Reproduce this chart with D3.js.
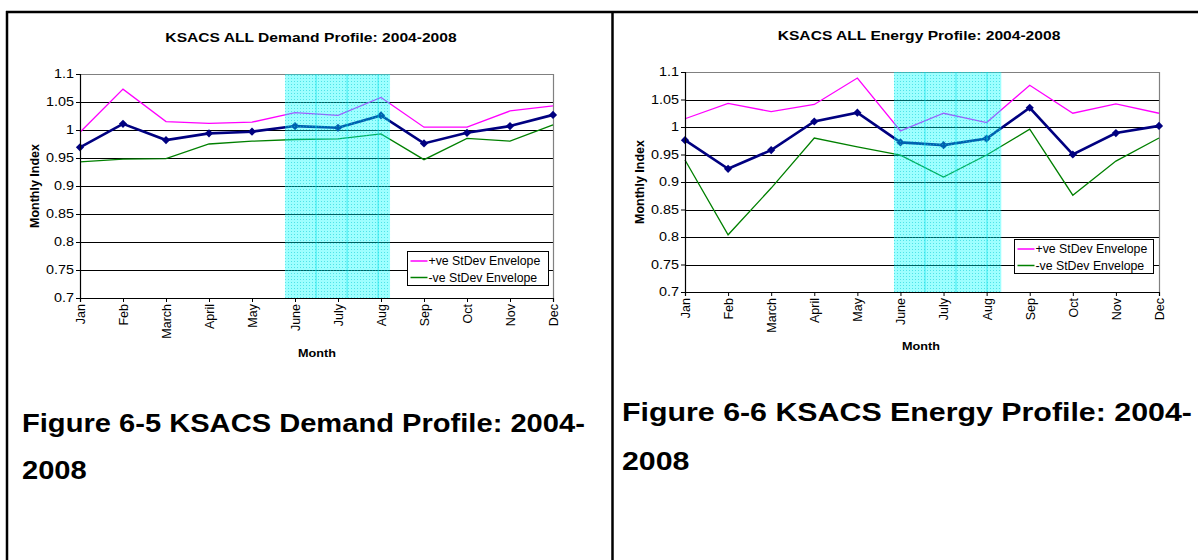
<!DOCTYPE html>
<html>
<head>
<meta charset="utf-8">
<script src="https://cdn.jsdelivr.net/npm/d3@7"></script>
<style>
  body { margin: 0; background: #fff; }
  text { font-family: "Liberation Sans", Arial, sans-serif; }
</style>
</head>
<body>
<div id="page"></div>
<script>
// month categories and tick values
const months = ['Jan', 'Feb', 'March', 'April', 'May', 'June', 'July', 'Aug', 'Sep', 'Oct', 'Nov', 'Dec'];
const yTicks = [0.7, 0.75, 0.8, 0.85, 0.9, 0.95, 1, 1.05, 1.1];

// Demand profile
const demandIndex = [0.969, 1.011, 0.982, 0.994, 0.997, 1.007, 1.004, 1.026, 0.976, 0.995, 1.007, 1.027];
const demandPlus  = [0.996, 1.073, 1.015, 1.012, 1.014, 1.031, 1.026, 1.058, 1.005, 1.005, 1.034, 1.043];
const demandMinus = [0.943, 0.948, 0.949, 0.975, 0.980, 0.983, 0.984, 0.993, 0.947, 0.985, 0.980, 1.009];

// Energy profile
const energyIndex = [0.976, 0.924, 0.958, 1.010, 1.026, 0.972, 0.967, 0.979, 1.035, 0.950, 0.989, 1.002];
const energyPlus  = [1.015, 1.043, 1.028, 1.041, 1.089, 0.993, 1.025, 1.008, 1.076, 1.025, 1.042, 1.025];
const energyMinus = [0.940, 0.804, 0.889, 0.980, 0.964, 0.949, 0.909, 0.949, 0.996, 0.876, 0.938, 0.980];

// summer band, in month positions
const demandShade = [4.77, 7.21];
const energyShade = [4.85, 7.34];

const svg = d3.select('#page').append('svg')
  .attr('width', 1198)
  .attr('height', 560)
  .style('display', 'block');

svg.append('rect').attr('width', 1198).attr('height', 560).attr('fill', '#fff');

// dotted texture for the shaded band
const defs = svg.append('defs');
const pat = defs.append('pattern')
  .attr('id', 'dots')
  .attr('width', 3).attr('height', 3)
  .attr('patternUnits', 'userSpaceOnUse');
pat.append('rect').attr('width', 3).attr('height', 3).attr('fill', '#00ffff').attr('opacity', 0.38);
pat.append('rect').attr('width', 1).attr('height', 1).attr('fill', '#00c8d0').attr('opacity', 0.5);

// page frame
const frame = svg.append('g').attr('stroke', '#000').attr('stroke-width', 2.5);
frame.append('line').attr('x1', 6).attr('x2', 1198).attr('y1', 12).attr('y2', 12);
frame.append('line').attr('x1', 7).attr('x2', 7).attr('y1', 11).attr('y2', 560);
frame.append('line').attr('x1', 612.5).attr('x2', 612.5).attr('y1', 11).attr('y2', 560);

// horizontal text, a bit stretched like the scanned original
function wideText(sel, x, y, sx, str) {
  return sel.append('text')
    .attr('transform', `translate(${x},${y}) scale(${sx},1)`)
    .text(str);
}

function drawChart(cfg) {
  const g = svg.append('g');
  const x = d3.scalePoint().domain(d3.range(months.length)).range([cfg.x0, cfg.x1]);
  const step = x.step();
  const xm = v => cfg.x0 + v * step;
  const y = d3.scaleLinear().domain([0.7, 1.1]).range([cfg.y1, cfg.y0]);

  // title
  wideText(g, cfg.titleX, cfg.titleY, 1.25, cfg.title)
    .attr('text-anchor', 'middle')
    .style('font-size', '12.5px').style('font-weight', 'bold');

  // gridlines
  g.append('g').selectAll('line')
    .data(yTicks.slice(1, -1))
    .enter().append('line')
    .attr('x1', cfg.x0).attr('x2', cfg.x1)
    .attr('y1', d => Math.round(y(d)) + 0.5).attr('y2', d => Math.round(y(d)) + 0.5)
    .attr('stroke', '#000').attr('stroke-width', 1);

  // plot border (top/right)
  g.append('path')
    .attr('d', `M${cfg.x0},${Math.round(y(1.1)) + 0.5}H${Math.round(cfg.x1) + 0.5}V${cfg.y1}`)
    .attr('fill', 'none').attr('stroke', '#808080').attr('stroke-width', 1.2);

  const line = d3.line().x((d, i) => x(i)).y(d => y(d));

  g.append('path').datum(cfg.plus)
    .attr('d', line).attr('fill', 'none')
    .attr('stroke', '#ff00ff').attr('stroke-width', 1.3);
  g.append('path').datum(cfg.minus)
    .attr('d', line).attr('fill', 'none')
    .attr('stroke', '#008000').attr('stroke-width', 1.3);
  g.append('path').datum(cfg.index)
    .attr('d', line).attr('fill', 'none')
    .attr('stroke', '#000080').attr('stroke-width', 2.6);
  // square diamonds
  g.append('g').selectAll('path')
    .data(cfg.index)
    .enter().append('path')
    .attr('transform', (d, i) => `translate(${x(i)},${y(d)}) rotate(45)`)
    .attr('d', d3.symbol().type(d3.symbolSquare).size(34))
    .attr('fill', '#000080');

  // shaded band drawn over the lines
  const sx0 = xm(cfg.shade[0]), sx1 = xm(cfg.shade[1]);
  const band = g.append('g');
  band.append('rect')
    .attr('x', sx0).attr('y', y(1.1))
    .attr('width', sx1 - sx0).attr('height', y(0.7) - y(1.1))
    .attr('fill', 'url(#dots)');
  // faint inner grid of the fill
  band.selectAll('line.v')
    .data(d3.range(sx0 + 31, sx1 - 4, 31))
    .enter().append('line')
    .attr('x1', d => d).attr('x2', d => d)
    .attr('y1', y(1.1)).attr('y2', y(0.7))
    .attr('stroke', '#00e0e8').attr('stroke-width', 1).attr('opacity', 0.6);

  // axes
  const yAxis = d3.axisLeft(y).tickValues(yTicks).tickSize(4).tickFormat(d => d3.format('')(+d.toFixed(2)));
  const ya = g.append('g').attr('transform', `translate(${cfg.x0},0)`).call(yAxis);
  ya.select('.domain').attr('stroke', '#000').attr('stroke-width', 1.2);
  ya.selectAll('.tick line').attr('stroke', '#000');
  ya.selectAll('.tick text')
    .attr('x', null)
    .attr('transform', 'translate(-6,0) scale(1.2,1)')
    .style('font-size', '12px').style('font-family', '"Liberation Sans", Arial, sans-serif')
    .attr('fill', '#000');

  const xAxis = d3.axisBottom(x).tickSize(4).tickFormat(i => months[i]);
  const xa = g.append('g').attr('transform', `translate(0,${cfg.y1})`).call(xAxis);
  xa.select('.domain').attr('stroke', '#000').attr('stroke-width', 1.2);
  xa.selectAll('.tick line').attr('stroke', '#000');
  xa.selectAll('.tick text')
    .attr('transform', 'rotate(-90)')
    .attr('x', -6).attr('y', 0).attr('dy', '0.35em')
    .attr('text-anchor', 'end')
    .style('font-size', '12.5px').style('font-family', '"Liberation Sans", Arial, sans-serif')
    .attr('fill', '#000');

  // axis titles
  wideText(g, cfg.monthX, cfg.monthY, 1.1, 'Month')
    .attr('text-anchor', 'middle')
    .style('font-size', '11.5px').style('font-weight', 'bold');
  g.append('text')
    .attr('transform', `translate(${cfg.idxX},${(cfg.y0 + cfg.y1) / 2}) rotate(-90)`)
    .attr('text-anchor', 'middle')
    .style('font-size', '12.5px').style('font-weight', 'bold')
    .text('Monthly Index');

  // legend
  const lg = g.append('g').attr('transform', `translate(${cfg.legX},${cfg.legY})`);
  lg.append('rect')
    .attr('width', cfg.legW).attr('height', 34)
    .attr('fill', '#fff').attr('stroke', '#000').attr('stroke-width', 1);
  const items = [['+ve StDev Envelope', '#ff00ff'], ['-ve StDev Envelope', '#008000']];
  items.forEach((it, i) => {
    const yy = 9.5 + i * 16.5;
    lg.append('line').attr('x1', 3).attr('x2', 20).attr('y1', yy).attr('y2', yy)
      .attr('stroke', it[1]).attr('stroke-width', 1.5);
    lg.append('text').attr('x', 21).attr('y', yy).attr('dy', '0.35em')
      .style('font-size', '12.3px').text(it[0]);
  });

  // caption, stretched to fill the panel width
  const caps = cfg.caption.map((c, i) => g.append('text')
    .style('font-size', '26px').style('font-weight', 'bold')
    .text(c));
  const sx = cfg.capW / caps[0].node().getComputedTextLength();
  caps.forEach((t, i) => t.attr('transform', `translate(${cfg.capX},${cfg.capY[i]}) scale(${sx},1)`));
}

drawChart({
  title: 'KSACS ALL Demand Profile: 2004-2008', titleX: 311, titleY: 42,
  x0: 80, x1: 553, y0: 74, y1: 298,
  index: demandIndex, plus: demandPlus, minus: demandMinus, shade: demandShade,
  monthX: 317, monthY: 357, idxX: 39,
  legX: 407.5, legY: 251.5, legW: 141,
  caption: ['Figure 6-5 KSACS Demand Profile: 2004-', '2008'], capX: 22, capY: [432, 479], capW: 563
});

drawChart({
  title: 'KSACS ALL Energy Profile: 2004-2008', titleX: 919, titleY: 40,
  x0: 685, x1: 1159, y0: 72, y1: 292,
  index: energyIndex, plus: energyPlus, minus: energyMinus, shade: energyShade,
  monthX: 921, monthY: 350, idxX: 644,
  legX: 1014.5, legY: 239.5, legW: 139,
  caption: ['Figure 6-6 KSACS Energy Profile: 2004-', '2008'], capX: 622, capY: [421, 470], capW: 570
});
</script>
</body>
</html>
